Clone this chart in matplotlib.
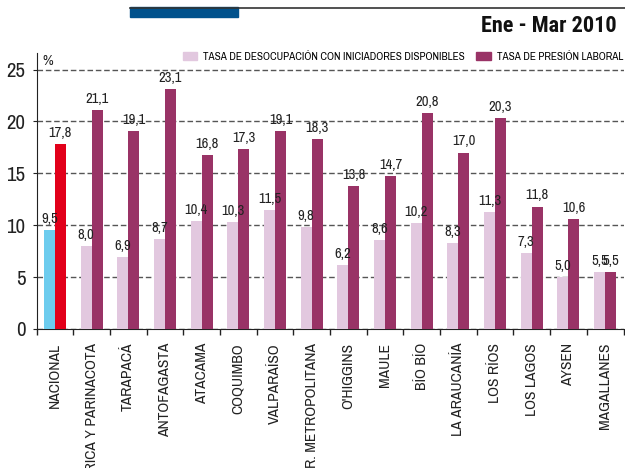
import matplotlib
matplotlib.use("Agg")
import matplotlib.pyplot as plt
import numpy as np
from matplotlib import font_manager
from matplotlib.patches import Rectangle, Patch
from matplotlib.lines import Line2D

candidatas = ['Liberation Sans Narrow', 'Arial Narrow', 'Archivo Narrow', 'Roboto Condensed',
              'PT Sans Narrow', 'Sofia Sans Condensed', 'Asap Condensed']
fuentes = font_manager.fontManager.ttflist
narrow = next((c for c in candidatas if any(f.name == c for f in fuentes)), 'DejaVu Sans')
narrow_bold = next((c for c in candidatas
                    if any(f.name == c and f.weight in (700, 'bold') for f in fuentes)), narrow)
plt.rcParams['font.family'] = [narrow, 'DejaVu Sans']

regiones = ['NACIONAL', 'ARICA Y PARINACOTA', 'TARAPACÁ', 'ANTOFAGASTA', 'ATACAMA',
            'COQUIMBO', 'VALPARAÍSO', 'R. METROPOLITANA', "O'HIGGINS", 'MAULE',
            'BÍO BÍO', 'LA ARAUCANÍA', 'LOS RÍOS', 'LOS LAGOS', 'AYSEN', 'MAGALLANES']
desocupacion = [9.5, 8.0, 6.9, 8.7, 10.4, 10.3, 11.5, 9.8, 6.2, 8.6, 10.2, 8.3, 11.3, 7.3, 5.0, 5.5]
presion = [17.8, 21.1, 19.1, 23.1, 16.8, 17.3, 19.1, 18.3, 13.8, 14.7, 20.8, 17.0, 20.3, 11.8, 10.6, 5.5]

c_des = '#E2C8DF'
c_pre = '#993366'
c_nac_des = '#6DCCEE'
c_nac_pre = '#E2001A'

fig = plt.figure(figsize=(6.25, 4.68), dpi=100)
ax = fig.add_axes([36.5 / 625, (468 - 329) / 468, 587 / 625, (329 - 53) / 468])

x = np.arange(len(regiones))
w = 0.3
cols_des = [c_nac_des] + [c_des] * (len(regiones) - 1)
cols_pre = [c_nac_pre] + [c_pre] * (len(regiones) - 1)
b1 = ax.bar(x - w / 2, desocupacion, w, color=cols_des, zorder=3)
b2 = ax.bar(x + w / 2, presion, w, color=cols_pre, zorder=3)

def fmt(v):
    return f"{v:.1f}".replace('.', ',')

for bars, vals in ((b1, desocupacion), (b2, presion)):
    for b, v in zip(bars, vals):
        ax.annotate(fmt(v), (b.get_x() + b.get_width() / 2, v), xytext=(0, 3),
                    textcoords='offset points', ha='center', va='bottom',
                    fontsize=10.5, color='#222222')

ax.set_xlim(-0.5, len(regiones) - 0.5)
ax.set_ylim(0, 26.6)
ax.set_yticks([0, 5, 10, 15, 20, 25])
ax.tick_params(axis='y', labelsize=15, length=3, pad=5, colors='#222222')
ax.set_xticks(x)
ax.set_xticklabels(regiones, rotation=90, va='top', ha='center', fontsize=11.2)
ax.tick_params(axis='x', which='major', length=0, pad=10, colors='#222222')
ax.set_xticks(np.arange(-0.5, len(regiones), 1), minor=True)
ax.tick_params(axis='x', which='minor', length=4, width=1, color='#222222')

ax.yaxis.grid(True, linestyle=(0, (4, 2)), color='#555555', linewidth=1, zorder=0)
for s in ['top', 'right']:
    ax.spines[s].set_visible(False)
ax.spines['left'].set_color('#222222')
ax.spines['bottom'].set_color('#222222')

ax.text(-0.35, 25.15, '%', fontsize=10.5, ha='left', va='bottom', color='#222222')

leg = ax.legend(handles=[Patch(color=c_des), Patch(color=c_pre)],
                labels=['TASA DE DESOCUPACIÓN CON INICIADORES DISPONIBLES', 'TASA DE PRESIÓN LABORAL'],
                ncol=2, frameon=False, fontsize=8.0, loc='center right',
                bbox_to_anchor=(623 / 625, 1 - 57 / 468), bbox_transform=fig.transFigure,
                handlelength=1.3, handleheight=0.75, handletextpad=0.55,
                columnspacing=1.0, borderpad=0, borderaxespad=0)

# cabecera
fig.patches.append(Rectangle((130 / 625, 1 - 17 / 468), 108 / 625, 10 / 468,
                             transform=fig.transFigure, color='#00518C'))
fig.lines.append(Line2D([130 / 625, 1], [1 - 7.5 / 468] * 2, transform=fig.transFigure,
                        color='#333333', linewidth=1.2))
fig.text(617 / 625, 1 - 32 / 468, 'Ene - Mar 2010', ha='right', va='baseline',
         fontsize=16.0, fontweight='bold', family=[narrow_bold, 'DejaVu Sans'], color='#111111')

fig.savefig('out.png', dpi=100)
